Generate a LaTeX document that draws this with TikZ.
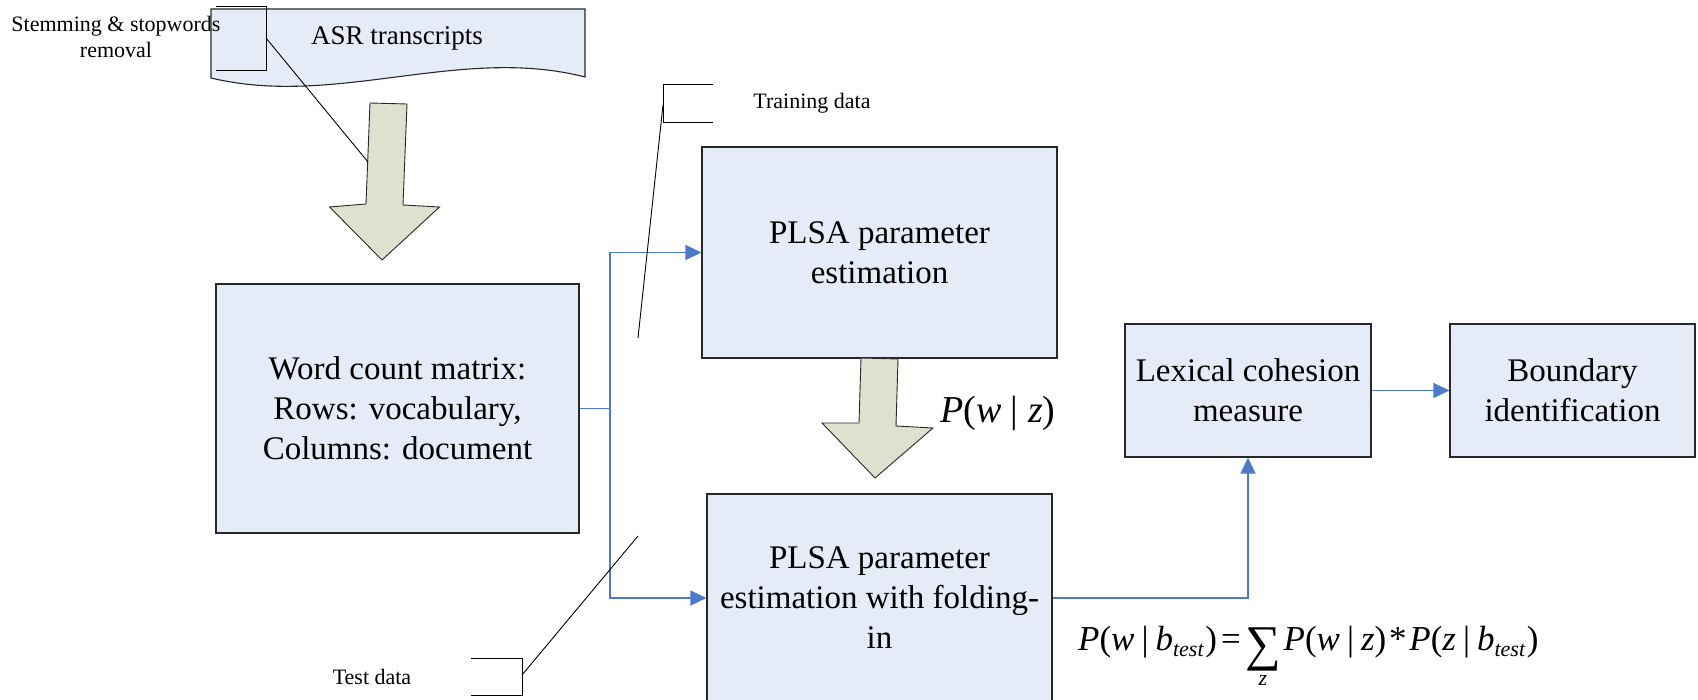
\documentclass[tikz,border=0pt]{standalone}
\usepackage{fontspec}
\setmainfont{Liberation Serif}
\usetikzlibrary{arrows.meta}
\definecolor{boxfill}{RGB}{230,236,247}
\definecolor{arrowfill}{RGB}{221,226,206}
\definecolor{flowblue}{RGB}{74,122,200}
\definecolor{edge}{RGB}{40,40,40}
% summation sign with its index set below it
\newcommand\sumover[1]{\raisebox{-10pt}{\vtop{\offinterlineskip\halign{\hfil##\hfil\cr
  {\fontsize{50}{50}\selectfont ∑}\cr\noalign{\kern5pt}
  {\fontsize{22}{22}\selectfont\itshape #1}\cr}}}}
% lowered subscript in the formula
\newcommand\lowsub[1]{\raisebox{-6pt}{\fontsize{22}{22}\selectfont\itshape #1}}
\begin{document}
\begin{tikzpicture}[x=1pt,y=-1pt,
  box/.style={draw=edge, line width=1.1pt, fill=boxfill, align=center,
    inner sep=0pt, font=\fontsize{33}{40}\selectfont},
  flow/.style={draw=flowblue, line width=1.2pt},
  flowarrow/.style={flow, -{Triangle[length=16pt,width=15pt]}},
  blockarrow/.style={draw=edge, line width=0.9pt, fill=arrowfill},
  callout/.style={draw=black, line width=0.9pt},
  note/.style={align=center, font=\fontsize{22}{26}\selectfont},
]
\useasboundingbox (0,0) rectangle (1698,700);
\clip (0,0) rectangle (1698,700);

% ASR transcripts: document shape with wavy bottom
\filldraw[draw=edge, line width=1.1pt, fill=boxfill]
  (211,9) -- (585,9) -- (585,77) .. controls (460,45) and (336,108) .. (211,78) -- cycle;
\node[font=\fontsize{27}{32}\selectfont] (asr) at (397,38) {ASR transcripts};

% block arrow from transcripts to the count matrix
\draw[blockarrow] (370,103) -- (407,104) -- (403,205) -- (439.5,207) -- (382,260)
  -- (329.5,207) -- (366,204) -- cycle;

% preprocessing callout
\node[note] (stem) at (116,37) {Stemming \& stopwords\\removal};
\coordinate (stemtip) at (368,162);
\draw[callout] (216,6) -- (266,6) -- (266,70) -- (216,70);
\draw[callout] (266,38) -- (stemtip);

% process boxes
\node[box, minimum width=363pt, minimum height=249pt] (word) at (397.5,408.5)
  {Word count matrix:\\Rows: vocabulary,\\Columns: document};
\node[box, minimum width=355pt, minimum height=211pt] (plsa1) at (879.5,252.5)
  {PLSA parameter\\estimation};
\node[box, minimum width=345pt, minimum height=208pt] (plsa2) at (879.5,598)
  {PLSA parameter\\estimation with folding-\\in};
\node[box, minimum width=246pt, minimum height=133pt] (lex) at (1248,390.5)
  {Lexical cohesion\\measure};
\node[box, minimum width=245pt, minimum height=133pt] (bnd) at (1572.5,390.5)
  {Boundary\\identification};

% block arrow between the two PLSA stages
\draw[blockarrow] (861,358) -- (898,359) -- (896,426) -- (933,428) -- (875,478)
  -- (822,423) -- (859,423) -- cycle;
\node[anchor=base west, inner sep=0pt, font=\fontsize{38}{44}\selectfont] (pwz) at (940,423)
  {\textit{P}(\textit{w}\hspace{0.25em}|\hspace{0.25em}\textit{z})};

% data flow connectors
\coordinate (split) at (610,408.5);
\draw[flow] (word.east) -- (split);
\draw[flowarrow] (split) |- (plsa1.west);
\draw[flowarrow] (split) |- (plsa2.west);
\draw[flowarrow] (plsa2.east) -| (lex.south);
\draw[flowarrow] (lex.east) -- (bnd.west);

% training / test data callouts
\node[note] (train) at (812,103) {Training data};
\coordinate (traintip) at (638,338);
\draw[callout] (713,84) -- (663,84) -- (663,122) -- (713,122);
\draw[callout] (663,105) -- (traintip);

\node[note] (test) at (372,677) {Test data};
\coordinate (testtip) at (638,536);
\draw[callout] (471,658) -- (522,658) -- (522,695) -- (471,695);
\draw[callout] (522,675) -- (testtip);

% folding-in formula
\node[anchor=base west, inner sep=0pt, font=\fontsize{35}{42}\selectfont] (formula) at (1078,650)
  {\textit{P}(\textit{w}\hspace{0.2em}|\hspace{0.2em}\textit{b}\lowsub{test}\hspace{0.05em})\hspace{0.12em}=\hspace{0.12em}\sumover{z}\hspace{0.08em}\textit{P}(\textit{w}\hspace{0.2em}|\hspace{0.2em}\textit{z})\hspace{0.08em}*\hspace{0.08em}\textit{P}(\textit{z}\hspace{0.2em}|\hspace{0.2em}\textit{b}\lowsub{test}\hspace{0.05em})};
\end{tikzpicture}
\end{document}
